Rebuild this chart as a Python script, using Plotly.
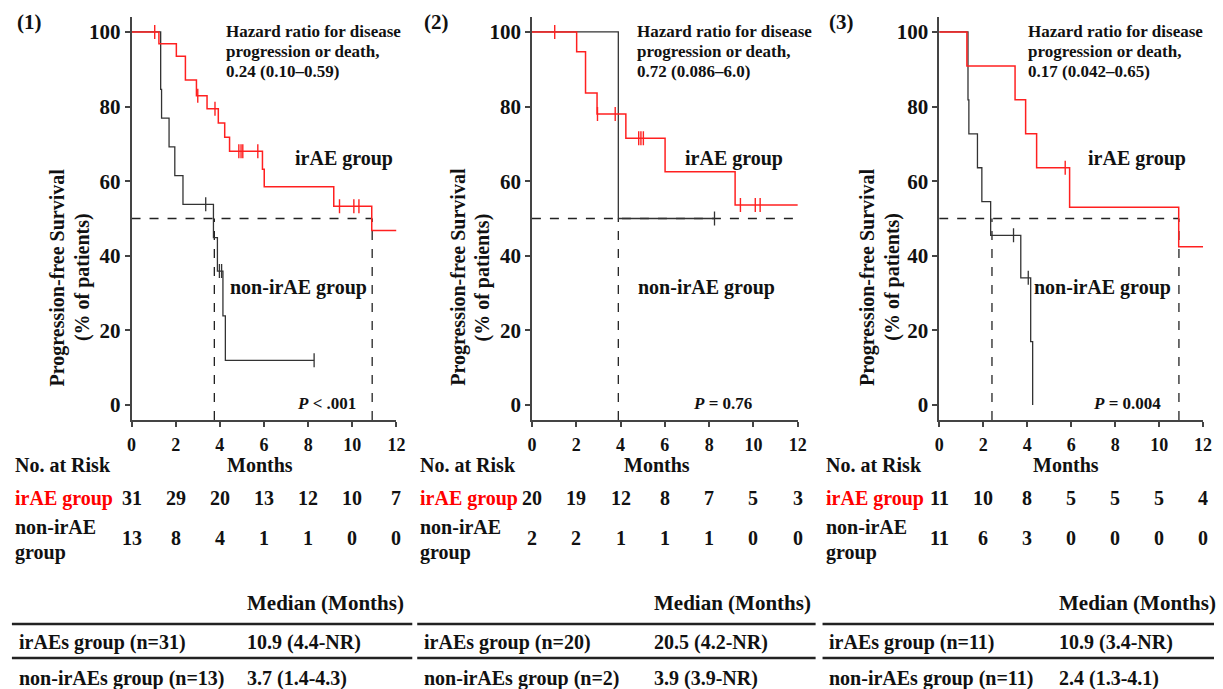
import plotly.graph_objects as go

W, H = 1223, 689
FONT = "Liberation Serif"
RED = "#ff2020"
BLK = "#333333"

# ---------------- data ----------------
panel_labels = ["(1)", "(2)", "(3)"]

# irAE group step curves (months, % PFS)
irae_t = [
    [0, 1.24, 2.03, 2.44, 2.94, 3.42, 3.93, 4.22, 4.44, 5.93, 6.01, 9.16, 10.88, 12.0],
    [0, 2.02, 2.42, 2.94, 4.24, 6.01, 9.17, 12.0],
    [0, 1.26, 3.45, 3.93, 4.43, 5.93, 10.89, 12.0],
]
irae_s = [
    [100, 96.8, 93.5, 87.1, 82.9, 79.4, 75.6, 71.8, 68.0, 63.2, 58.5, 53.3, 46.8, 46.8],
    [100, 94.7, 83.6, 78.0, 71.5, 62.5, 53.6, 53.6],
    [100, 90.9, 81.8, 72.7, 63.6, 53.0, 42.4, 42.4],
]
irae_cens = [
    [1.05, 3.0, 3.78, 4.86, 4.96, 5.04, 5.72, 9.42, 10.07, 10.3],
    [1.03, 2.96, 3.76, 4.82, 4.92, 5.03, 9.41, 10.08, 10.3],
    [5.73],
]

# non-irAE group step curves
non_t = [
    [0, 1.32, 1.36, 1.70, 1.96, 2.33, 3.71, 3.89, 4.14, 4.25, 8.27],
    [0, 3.9, 8.24],
    [0, 1.31, 1.35, 1.74, 1.94, 2.34, 3.71, 4.16, 4.25],
]
non_s = [
    [100, 84.6, 76.9, 69.2, 61.5, 53.8, 44.9, 35.9, 23.9, 12.0, 12.0],
    [100, 50, 50],
    [100, 81.8, 72.7, 63.6, 54.5, 45.5, 34.1, 17.0, 0],
]
non_cens = [
    [3.36, 3.98, 4.08, 8.27],
    [8.24],
    [3.38, 4.05],
]

# median PFS (None = not reached within axis)
median_irae = [10.9, None, 10.9]
median_non = [3.75, 3.9, 2.4]

hr_lines = [
    ["Hazard ratio for disease", "progression or death,", "0.24 (0.10–0.59)"],
    ["Hazard ratio for disease", "progression or death,", "0.72 (0.086–6.0)"],
    ["Hazard ratio for disease", "progression or death,", "0.17 (0.042–0.65)"],
]
p_text = ["<i>P</i> < .001", "<i>P</i> = 0.76", "<i>P</i> = 0.004"]
y_title = ["Progression-free Survival", "(% of patients)"]

risk_times = [0, 2, 4, 6, 8, 10, 12]
risk_irae = [
    [31, 29, 20, 13, 12, 10, 7],
    [20, 19, 12, 8, 7, 5, 3],
    [11, 10, 8, 5, 5, 5, 4],
]
risk_non = [
    [13, 8, 4, 1, 1, 0, 0],
    [2, 2, 1, 1, 1, 0, 0],
    [11, 6, 3, 0, 0, 0, 0],
]

tbl_row1 = ["irAEs group (n=31)", "irAEs group (n=20)", "irAEs group (n=11)"]
tbl_row2 = ["non-irAEs group (n=13)", "non-irAEs group (n=2)", "non-irAEs group (n=11)"]
tbl_val1 = ["10.9 (4.4-NR)", "20.5 (4.2-NR)", "10.9 (3.4-NR)"]
tbl_val2 = ["3.7 (1.4-4.3)", "3.9 (3.9-NR)", "2.4 (1.3-4.1)"]

# ---------------- layout geometry (pixels) ----------------
x_dom_px = [(128, 396), (533, 802), (945, 1212)]
y_dom_px = (17, 420)
panel_left = [0, 410, 820]


def px(x):
    return x / W


def py(y):
    return 1 - y / H


def surv_at(ts, ss, t):
    v = ss[0]
    for ti, si in zip(ts, ss):
        if ti <= t:
            v = si
    return v


fig = go.Figure()
shapes = []
ann = []


def A(text, x, y, size, xanchor="left", color="#111", **kw):
    if xanchor == "left":
        x = x - 4
    ann.append(dict(text=text, x=px(x), y=py(y), xref="paper", yref="paper",
                    xanchor=xanchor, yanchor="middle", showarrow=False,
                    font=dict(family=FONT, size=size, color=color), **kw))


for i in range(3):
    xa = "x" if i == 0 else f"x{i+1}"
    ya = "y" if i == 0 else f"y{i+1}"
    off = panel_left[i]

    # reference dashed lines (median)
    hend = median_irae[i] if median_irae[i] is not None else 12
    shapes.append(dict(type="line", xref=xa, yref=ya, x0=0, x1=hend, y0=50, y1=50,
                       line=dict(color="#222", width=1.3, dash="dash"), layer="below"))
    for m in [median_non[i], median_irae[i]]:
        if m is not None:
            shapes.append(dict(type="line", xref=xa, yref=ya, x0=m, x1=m, y0=-4, y1=50,
                               line=dict(color="#222", width=1.3, dash="dash"), layer="below"))

    # curves
    fig.add_trace(go.Scatter(x=non_t[i], y=non_s[i], mode="lines", line_shape="hv",
                             line=dict(color=BLK, width=1.3), xaxis=xa, yaxis=ya,
                             showlegend=False, hoverinfo="skip"))
    fig.add_trace(go.Scatter(x=non_cens[i], y=[surv_at(non_t[i], non_s[i], c) for c in non_cens[i]],
                             mode="markers", marker=dict(symbol="line-ns", size=10,
                                                         line=dict(color=BLK, width=1.3)),
                             xaxis=xa, yaxis=ya, showlegend=False, hoverinfo="skip"))
    fig.add_trace(go.Scatter(x=irae_t[i], y=irae_s[i], mode="lines", line_shape="hv",
                             line=dict(color=RED, width=1.5), xaxis=xa, yaxis=ya,
                             showlegend=False, hoverinfo="skip"))
    fig.add_trace(go.Scatter(x=irae_cens[i], y=[surv_at(irae_t[i], irae_s[i], c) for c in irae_cens[i]],
                             mode="markers", marker=dict(symbol="line-ns", size=10,
                                                         line=dict(color=RED, width=1.4)),
                             xaxis=xa, yaxis=ya, showlegend=False, hoverinfo="skip"))

    # axes
    common = dict(showline=True, linecolor="#444", linewidth=1.5, ticks="outside",
                  ticklen=5, tickwidth=1.5, tickcolor="#444", showgrid=False, zeroline=False,
                  fixedrange=True)
    fig.layout[("xaxis" if i == 0 else f"xaxis{i+1}")] = dict(
        domain=[px(x_dom_px[i][0]), px(x_dom_px[i][1])], range=[0, 12],
        tickvals=risk_times, anchor=ya,
        tickfont=dict(family=FONT, size=18, color="#111", weight="bold"),
        ticklabelstandoff=3, **common)
    fig.layout[("yaxis" if i == 0 else f"yaxis{i+1}")] = dict(
        domain=[py(y_dom_px[1]), py(y_dom_px[0])], range=[-4, 104],
        tickvals=[0, 20, 40, 60, 80, 100], anchor=xa,
        tickfont=dict(family=FONT, size=21, color="#111", weight="bold"), **common)

    # text annotations
    A(f"<b>{panel_labels[i]}</b>", [14, 426, 836][i], 22, 21)
    for k, line in enumerate(hr_lines[i]):
        A(f"<b>{line}</b>", [226, 641, 1037][i], [31, 52, 72][k], 17)
    A("<b>irAE group</b>", [295, 690, 1098][i], 158, 20)
    A("<b>non-irAE group</b>", [230, 642, 1043][i], 287, 20)
    A(f"<b>{p_text[i]}</b>", [297, 698, 1103][i], 404, 17)
    A(f"<b>{y_title[0]}</b>", [53, 458, 872][i], 277, 20, xanchor="center", textangle=-90)
    A(f"<b>{y_title[1]}</b>", [78, 483, 897][i], 277, 20, xanchor="center", textangle=-90)
    A("<b>Months</b>", [258, 660, 1073][i], 465, 20, xanchor="center")

    # risk table
    A("<b>No. at Risk</b>", off + 12, 465, 20)
    A("<b>irAE group</b>", off + 12, 498, 20, color="#ff0000")
    A("<b>non-irAE</b>", off + 12, 527, 20)
    A("<b>group</b>", off + 12, 552, 20)
    for t, a, b in zip(risk_times, risk_irae[i], risk_non[i]):
        ann.append(dict(text=f"<b>{a}</b>", x=t, y=py(498), xref=xa, yref="paper",
                        xanchor="center", yanchor="middle", showarrow=False,
                        font=dict(family=FONT, size=20, color="#111")))
        ann.append(dict(text=f"<b>{b}</b>", x=t, y=py(538), xref=xa, yref="paper",
                        xanchor="center", yanchor="middle", showarrow=False,
                        font=dict(family=FONT, size=20, color="#111")))

    # median table
    tl = [7, 417, 827][i]
    tr = [412, 820, 1223][i]
    vx = [247, 658, 1068][i]
    A("<b>Median (Months)</b>", vx, 603, 21)
    A(f"<b>{tbl_row1[i]}</b>", tl + 9, 642, 20)
    A(f"<b>{tbl_val1[i]}</b>", vx, 642, 20)
    A(f"<b>{tbl_row2[i]}</b>", tl + 9, 678, 20)
    A(f"<b>{tbl_val2[i]}</b>", vx, 678, 20)
    for yy in [624, 658]:
        shapes.append(dict(type="line", xref="paper", yref="paper", x0=px(tl), x1=px(tr),
                           y0=py(yy), y1=py(yy), line=dict(color="#222", width=2.5)))

fig.update_layout(width=W, height=H, margin=dict(l=0, r=0, t=0, b=0),
                  paper_bgcolor="white", plot_bgcolor="white",
                  shapes=shapes, annotations=ann, showlegend=False,
                  font=dict(family=FONT))

fig.write_html("out.html", config={"displayModeBar": False},
               post_script="document.body.style.margin='0';document.body.style.overflow='hidden';")
